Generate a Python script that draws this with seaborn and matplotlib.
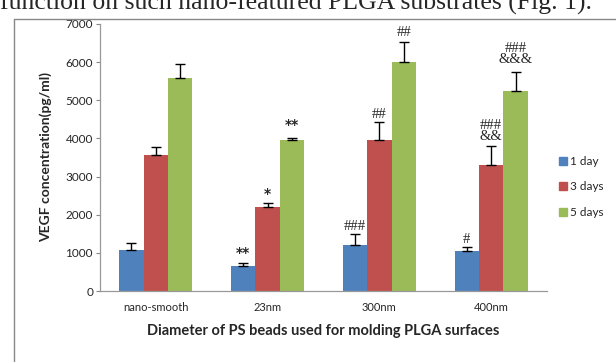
import numpy as np
import pandas as pd
import seaborn as sns
import matplotlib.pyplot as plt
from matplotlib.lines import Line2D

# Data
groups = ['nano-smooth', '23nm', '300nm', '400nm']
days = ['1 day', '3 days', '5 days']
vegf_1day = [1075, 655, 1205, 1050]
vegf_3day = [3570, 2195, 3960, 3295]
vegf_5day = [5590, 3970, 6010, 5240]
err_1day = [190, 75, 300, 110]
err_3day = [200, 100, 470, 500]
err_5day = [360, 30, 520, 500]

# significance marks: (group, day, text, y)
marks = [
    ('23nm', '1 day', '**', 1000),
    ('23nm', '3 days', '*', 2540),
    ('23nm', '5 days', '**', 4350),
    ('300nm', '1 day', '###', 1700),
    ('300nm', '3 days', '##', 4615),
    ('300nm', '5 days', '##', 6770),
    ('400nm', '1 day', '#', 1355),
    ('400nm', '3 days', '###\n&&', 4200),
    ('400nm', '5 days', '###\n&&&', 6215),
]

palette = ['#4F81BD', '#C0504D', '#9BBB59']

df = pd.DataFrame({
    'group': groups * 3,
    'day': [d for d in days for _ in groups],
    'vegf': vegf_1day + vegf_3day + vegf_5day,
    'err': err_1day + err_3day + err_5day,
})

sns.set_theme(style='white')
plt.rcParams['font.family'] = ['Lato', 'DejaVu Sans']

fig = plt.figure(figsize=(6.16, 3.62), dpi=100)
ax = fig.add_axes([100 / 616, 1 - 291 / 362, 447 / 616, 267 / 362])

sns.barplot(data=df, x='group', y='vegf', hue='day', order=groups, hue_order=days,
            palette=palette, width=0.655, gap=0, errorbar=None, saturation=1,
            linewidth=0, ax=ax)

# error bars (upper only) centred on each bar
bars = {}
for i, d in enumerate(days):
    cont = ax.containers[i]
    sub = df[df['day'] == d].set_index('group').loc[groups]
    for g, patch, v, e in zip(groups, cont, sub['vegf'], sub['err']):
        xc = patch.get_x() + patch.get_width() / 2
        bars[(g, d)] = xc
        ax.errorbar(xc, v, yerr=[[0], [e]], fmt='none', ecolor='black',
                    elinewidth=1, capsize=3.5, capthick=1)

for g, d, txt, y in marks:
    star = '*' in txt
    ax.text(bars[(g, d)], y, txt, ha='center', va='center',
            fontsize=10 if star else 10.5,
            family=['DejaVu Sans'] if star else ['Liberation Serif'],
            linespacing=0.85, fontweight='bold' if star else 'normal')

ax.set_ylim(0, 7000)
ax.set_xlim(-0.5, 3.5)
ax.set_yticks(range(0, 7001, 1000))
ax.tick_params(axis='y', labelsize=8.5, length=3, width=0.8, color='#888888',
               left=True, pad=2)
ax.tick_params(axis='x', labelsize=8, length=0, pad=8)
for s in ['top', 'right']:
    ax.spines[s].set_visible(False)
for s in ['left', 'bottom']:
    ax.spines[s].set_color('#999999')
    ax.spines[s].set_linewidth(0.9)

ax.set_xlabel('Diameter of PS beads used for molding PLGA surfaces',
              fontsize=10.5, fontweight='bold', labelpad=8)
ax.set_ylabel('VEGF concentration(pg/ml)', fontsize=10, fontweight='bold', labelpad=10)

handles = [Line2D([], [], marker='s', ls='none', color=c, markersize=6) for c in palette]
ax.legend(handles, days, loc='upper left', bbox_to_anchor=(552 / 616, 1 - 151 / 362),
          bbox_transform=fig.transFigure, frameon=False, fontsize=8.5,
          handletextpad=0.1, labelspacing=1.25, handlelength=1.0, borderaxespad=0)

# page text and frame from the source screenshot
fig.text(0.0, 1 - 10 / 362, 'function on such nano-featured PLGA substrates (Fig. 1).',
         family=['Liberation Serif'], fontsize=18.5, va='baseline', ha='left')
fig.add_artist(Line2D([14 / 616, 14 / 616], [0, 1 - 19 / 362], color='#888888', lw=1))
fig.add_artist(Line2D([14 / 616, 1], [1 - 19 / 362, 1 - 19 / 362], color='#888888', lw=1))

fig.savefig('out.png', dpi=100)
